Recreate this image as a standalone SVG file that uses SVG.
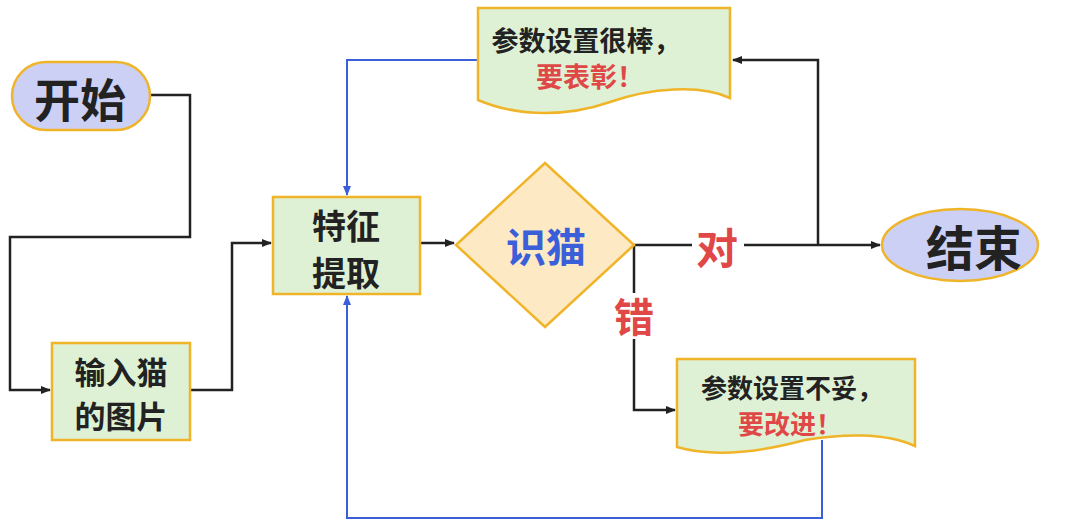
<svg xmlns="http://www.w3.org/2000/svg" width="1080" height="528" viewBox="0 0 1080 528">
<style>
text{font-family:"Noto Sans CJK SC","Noto Sans",sans-serif;text-anchor:middle;dominant-baseline:central;font-weight:600}
.box{fill:#dff1d5;stroke:#f0b429;stroke-width:2.5}
.k{stroke:#222;stroke-width:2.5;fill:none}
.b{stroke:#3a5fd9;stroke-width:2;fill:none}
.dk{fill:#222}.rd{fill:#e04848}
</style>
<defs>
<marker id="ak" markerWidth="10" markerHeight="8" refX="9" refY="4" orient="auto" markerUnits="userSpaceOnUse" viewBox="0 0 10 8"><path d="M0,0L10,4L0,8z" fill="#222"/></marker>
<marker id="ab" markerWidth="10" markerHeight="8" refX="9" refY="4" orient="auto" markerUnits="userSpaceOnUse" viewBox="0 0 10 8"><path d="M0,0L10,4L0,8z" fill="#3a5fd9"/></marker>
</defs>
<rect width="1080" height="528" fill="#fff"/>
<g id="connectors">
<path class="k" d="M150,95H190V237H10V390H50" marker-end="url(#ak)"/>
<path class="k" d="M190,390H232V243H271" marker-end="url(#ak)"/>
<path class="k" d="M420,243H454" marker-end="url(#ak)"/>
<path class="k" d="M634,245H880" marker-end="url(#ak)"/>
<path class="k" d="M818,245V60H733" marker-end="url(#ak)"/>
<path class="k" d="M634,245V410H675" marker-end="url(#ak)"/>
<path class="b" d="M478,60H347V195" marker-end="url(#ab)"/>
<path class="b" d="M822,440V518H347V296" marker-end="url(#ab)"/>
<rect x="692" y="222" width="52" height="46" fill="#fff"/>
<text x="717" y="245" font-size="42" class="rd">对</text>
<rect x="612" y="293" width="44" height="46" fill="#fff"/>
<text x="634" y="315" font-size="40" class="rd">错</text>
</g>
<g id="start"><rect x="12" y="62" width="138" height="68" rx="34" fill="#ccd0f5" stroke="#f0b429" stroke-width="2.5"/><text x="80" y="97" font-size="46" class="dk">开始</text></g>
<g id="input"><rect class="box" x="52" y="343" width="138" height="97"/><text x="121" y="370" font-size="31" class="dk">输入猫</text><text x="121" y="414" font-size="31" class="dk">的图片</text></g>
<g id="feature"><rect class="box" x="273" y="197" width="147" height="97"/><text x="346" y="224" font-size="34" class="dk">特征</text><text x="346" y="271" font-size="34" class="dk">提取</text></g>
<g id="decision"><path d="M456,245L545,163L634,245L545,327Z" fill="#fde9c4" stroke="#f0b429" stroke-width="2.5"/><text x="546" y="245" font-size="40" fill="#3a5fd9">识猫</text></g>
<g id="end"><ellipse cx="960" cy="245" rx="78" ry="36" fill="#ccd0f5" stroke="#f0b429" stroke-width="2.5"/><text x="974" y="245" font-size="48" class="dk">结束</text></g>
<g id="good"><path class="box" d="M478,8H730V98C700,84 650,88 610,102C570,116 520,118 478,100Z"/><text x="586" y="39" font-size="27" class="dk">参数设置很棒，</text><text x="590" y="75" font-size="27" class="rd">要表彰！</text></g>
<g id="bad"><path class="box" d="M677,359H915V446C885,432 840,434 805,440C760,452 715,458 677,447Z"/><text x="792" y="386" font-size="26" class="dk">参数设置不妥，</text><text x="790" y="422" font-size="26" class="rd">要改进！</text></g>
</svg>
